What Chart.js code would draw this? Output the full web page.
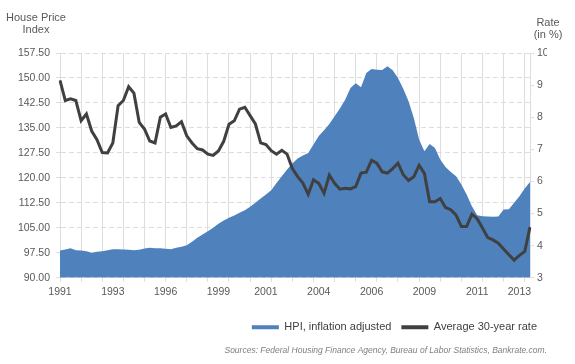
<!DOCTYPE html>
<html>
<head>
<meta charset="utf-8">
<script src="https://cdn.jsdelivr.net/npm/chart.js@4"></script>
<style>
    body { margin: 0; background: #fff; }
    #wrap { position: relative; width: 575px; height: 364px; }
    .axTitle { position: absolute; font: 11px 'Liberation Sans', Arial, sans-serif; color: #595959; text-align: center; line-height: 12px; }
</style>
</head>
<body>
<div id="wrap">
    <canvas id="grafico" width="575" height="364"></canvas>
    <div class="axTitle" style="left:0px; top:11px; width:72px;">House Price<br>Index</div>
    <div class="axTitle" style="left:525px; top:16px; width:46px;">Rate<br>(in %)</div>
</div>
<script>
// HPI inflation adjusted, quarterly 1991 - 2013
const hpi = [98.2, 98.5, 98.9, 98.3, 98.2, 98.0, 97.5, 97.8, 98.0, 98.3,
    98.6, 98.6, 98.5, 98.4, 98.3, 98.4, 98.8, 99.0, 98.9, 98.9,
    98.7, 98.6, 99.0, 99.3, 99.8, 100.8, 102.0, 103.0, 104.0, 105.0,
    106.2, 107.2, 108.0, 108.7, 109.5, 110.3, 111.3, 112.5, 113.8, 115.0,
    116.3, 118.5, 120.5, 122.5, 124.3, 125.8, 126.7, 127.5, 130.0, 132.6,
    134.3, 136.2, 138.5, 140.8, 143.5, 147.0, 148.4, 147.2, 151.5, 152.7,
    152.5, 152.4, 153.5, 152.3, 150.0, 146.8, 143.0, 138.0, 131.5, 128.0,
    130.2, 129.0, 125.5, 123.3, 121.8, 120.5, 118.0, 115.0, 111.5, 108.8,
    108.5, 108.4, 108.3, 108.4, 110.5, 110.6, 112.5, 114.5, 116.8, 118.8];

// Average 30-year rate (%)
const tasa = [9.15, 8.52, 8.57, 8.52, 7.89, 8.1, 7.57, 7.3, 6.9, 6.89,
    7.2, 8.36, 8.52, 8.95, 8.75, 7.84, 7.63, 7.26, 7.2, 8.0,
    8.1, 7.68, 7.73, 7.86, 7.42, 7.2, 7.02, 6.98, 6.85, 6.81,
    6.95, 7.25, 7.78, 7.89, 8.25, 8.31, 8.05, 7.79, 7.2, 7.15,
    6.96, 6.85, 6.97, 6.85, 6.4, 6.15, 5.95, 5.6, 6.05, 5.94,
    5.63, 6.2, 5.94, 5.76, 5.79, 5.77, 5.84, 6.26, 6.29, 6.66,
    6.57, 6.3, 6.26, 6.4, 6.57, 6.21, 6.03, 6.15, 6.5, 6.25,
    5.37, 5.37, 5.47, 5.19, 5.12, 4.95, 4.6, 4.6, 4.98, 4.84,
    4.55, 4.25, 4.18, 4.08, 3.9, 3.72, 3.55, 3.7, 3.82, 4.58];

// Etiquetas del eje X (posición en la serie -> año)
const tickIndices = [0, 10, 20, 30, 39, 49, 59, 69, 79, 87];
const tickAnios = ['1991', '1993', '1996', '1999', '2001', '2004', '2006', '2009', '2011', '2013'];

const etiquetas = hpi.map((v, i) => i);
const fuente = "'Liberation Sans', Arial, sans-serif";
const gris = '#595959';
const lineaGrid = '#dedede';

new Chart(document.getElementById('grafico'), {
    type: 'line',
    data: {
        labels: etiquetas,
        datasets: [
            {
                label: 'HPI, inflation adjusted',
                data: hpi,
                yAxisID: 'yHpi',
                backgroundColor: '#4f81bd',
                borderColor: '#4f81bd',
                borderWidth: 0,
                fill: 'start',
                pointRadius: 0,
                tension: 0,
                order: 2
            },
            {
                label: 'Average 30-year rate',
                data: tasa,
                yAxisID: 'yTasa',
                backgroundColor: '#404040',
                borderColor: '#404040',
                borderWidth: 3,
                fill: false,
                pointRadius: 0,
                tension: 0,
                order: 1
            }
        ]
    },
    options: {
        responsive: false,
        animation: false,
        layout: { padding: { top: 53, right: 28, bottom: 8, left: 0 } },
        plugins: {
            tooltip: { enabled: false },
            legend: {
                position: 'bottom',
                align: 'end',
                labels: {
                    boxWidth: 27,
                    boxHeight: 4,
                    padding: 10,
                    color: '#404040',
                    font: { family: fuente, size: 11 },
                    sort: (a, b) => a.datasetIndex - b.datasetIndex,
                    generateLabels: function(chart) {
                        return Chart.defaults.plugins.legend.labels.generateLabels(chart)
                            .map(l => Object.assign(l, { lineWidth: 0 }));
                    }
                }
            },
            subtitle: {
                display: true,
                position: 'bottom',
                align: 'end',
                text: 'Sources: Federal Housing Finance Agency, Bureau of Labor Statistics, Bankrate.com.',
                color: '#7f7f7f',
                font: { family: fuente, size: 8.5, style: 'italic' },
                padding: { top: 3, bottom: 0 }
            }
        },
        scales: {
            x: {
                afterFit: s => { s.height = 34; },
                grid: {
                    color: ctx => (ctx.index % 4 === 0 ? lineaGrid : 'rgba(0,0,0,0)'),
                    tickLength: 4
                },
                border: { display: false },
                ticks: {
                    autoSkip: false,
                    maxRotation: 0,
                    padding: 4,
                    color: gris,
                    font: { family: fuente, size: 10.5 },
                    callback: function(v, i) {
                        const k = tickIndices.indexOf(i);
                        return k >= 0 ? tickAnios[k] : '';
                    }
                }
            },
            yHpi: {
                position: 'left',
                min: 90,
                max: 157.5,
                afterFit: s => { s.width = 60; },
                grid: { color: lineaGrid, tickLength: 4 },
                border: { display: true, color: lineaGrid, dash: [5, 3] },
                ticks: {
                    stepSize: 7.5,
                    padding: 6,
                    color: gris,
                    font: { family: fuente, size: 10.5 },
                    callback: v => v.toFixed(2)
                }
            },
            yTasa: {
                position: 'right',
                min: 3,
                max: 10,
                afterFit: s => { s.width = 17; },
                grid: { drawOnChartArea: false, color: lineaGrid, tickLength: 4 },
                border: { display: true, color: lineaGrid },
                ticks: {
                    stepSize: 1,
                    padding: 3,
                    color: gris,
                    font: { family: fuente, size: 10.5 }
                }
            }
        }
    }
});
</script>
</body>
</html>
